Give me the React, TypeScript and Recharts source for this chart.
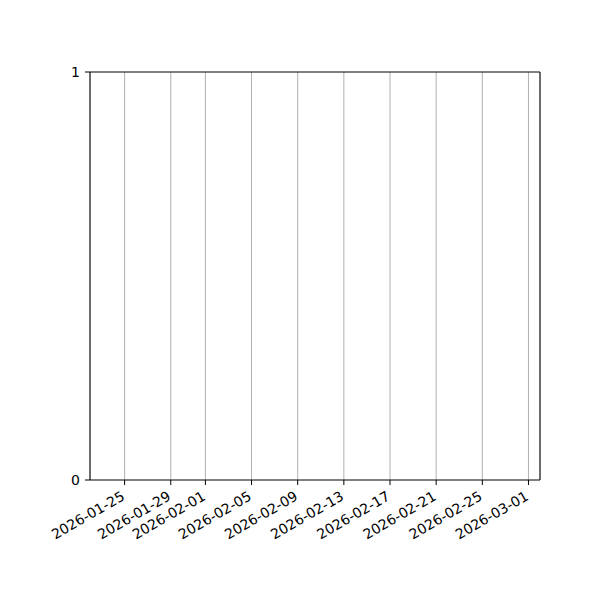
import { LineChart, Line, XAxis, YAxis, CartesianGrid, ReferenceArea } from 'recharts'

const day = (s: string) => Date.UTC(+s.slice(0, 4), +s.slice(5, 7) - 1, +s.slice(8, 10))

// the series is empty in the reference
const dates: string[] = []
const values: number[] = []

const tickLabels = [
  '2026-01-25',
  '2026-01-29',
  '2026-02-01',
  '2026-02-05',
  '2026-02-09',
  '2026-02-13',
  '2026-02-17',
  '2026-02-21',
  '2026-02-25',
  '2026-03-01',
]
const xStart = '2026-01-22'
const xEnd = '2026-03-02'
const yTicks = [0, 1]

const data = dates.map((d, i) => ({ t: day(d), v: values[i] }))

function DateTick({ x, y, payload }: any) {
  const label = new Date(payload.value).toISOString().slice(0, 10)
  const tx = x + 1
  const ty = y + 12
  return (
    <text
      x={tx}
      y={ty}
      textAnchor="end"
      fontSize={14}
      fill="#000"
      fontFamily="DejaVu Sans"
      transform={`rotate(-30, ${tx}, ${ty})`}
    >
      {label}
    </text>
  )
}

export default function App() {
  return (
    <div style={{ position: 'absolute', left: 0, top: 0, background: '#fff' }}>
      <LineChart
        width={600}
        height={600}
        data={data}
        margin={{ top: 72, right: 60, left: 0, bottom: 0 }}
      >
        <CartesianGrid horizontal={false} stroke="#b0b0b0" strokeWidth={1} />
        <XAxis
          dataKey="t"
          type="number"
          scale="time"
          domain={[day(xStart), day(xEnd)]}
          ticks={tickLabels.map(day)}
          interval={0}
          height={120}
          stroke="#000"
          axisLine={false}
          tickSize={5}
          tick={<DateTick />}
          allowDataOverflow
        />
        <YAxis
          type="number"
          domain={[0, 1]}
          ticks={yTicks}
          width={90}
          stroke="#000"
          axisLine={false}
          tickSize={5}
          tickMargin={5}
          tick={{ fill: '#000', fontSize: 14, fontFamily: 'DejaVu Sans' }}
          allowDataOverflow
        />
        <ReferenceArea
          x1={day(xStart)}
          x2={day(xEnd)}
          y1={0}
          y2={1}
          fill="none"
          stroke="#000"
          strokeWidth={1}
        />
        <Line dataKey="v" stroke="#1f77b4" dot={false} isAnimationActive={false} />
      </LineChart>
    </div>
  )
}
